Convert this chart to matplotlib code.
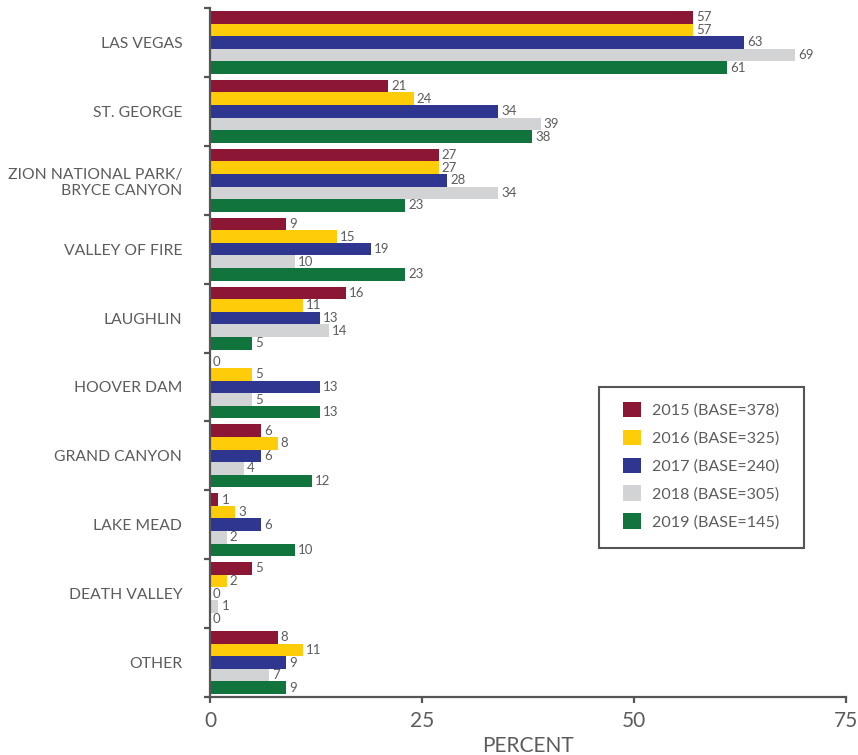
import matplotlib.pyplot as plt
from matplotlib.patches import Rectangle
import numpy as np

plt.rcParams['font.family'] = ['Lato', 'DejaVu Sans']

places = ["LAS VEGAS", "ST. GEORGE", "ZION NATIONAL PARK/\nBRYCE CANYON",
          "VALLEY OF FIRE", "LAUGHLIN", "HOOVER DAM", "GRAND CANYON",
          "LAKE MEAD", "DEATH VALLEY", "OTHER"]
series_names = ["2015 (BASE=378)", "2016 (BASE=325)", "2017 (BASE=240)",
                "2018 (BASE=305)", "2019 (BASE=145)"]
y2015 = [57, 21, 27, 9, 16, 0, 6, 1, 5, 8]
y2016 = [57, 24, 27, 15, 11, 5, 8, 3, 2, 11]
y2017 = [63, 34, 28, 19, 13, 13, 6, 6, 0, 9]
y2018 = [69, 39, 34, 10, 14, 5, 4, 2, 1, 7]
y2019 = [61, 38, 23, 23, 5, 13, 12, 10, 0, 9]
colors = ["#8B1734", "#FFCC0A", "#2E368F", "#D1D3D4", "#11743C"]

axis_col = "#555555"
text_col = "#5c5c5c"

W, H = 858, 755
fig = plt.figure(figsize=(W/100, H/100), dpi=100)
ax = fig.add_axes([210/W, (H-697)/H, (846-210)/W, (697-8)/H])

pos = np.arange(len(places))
h = 0.183
all_series = [y2015, y2016, y2017, y2018, y2019]
for i, (vals, col, name) in enumerate(zip(all_series, colors, series_names)):
    yy = pos + (i - 2) * h
    ax.barh(yy, vals, height=h, color=col, label=name, linewidth=0)
    for y, v in zip(yy, vals):
        ax.text(v + 0.35, y, str(v), va='center', ha='left',
                fontsize=9.5, color=text_col)

ax.set_xlim(0, 75)
ax.set_ylim(len(places) - 0.5, -0.5)
ax.set_xticks([0, 25, 50, 75])
ax.set_yticks(pos)
ax.set_yticklabels(places, linespacing=1.2)
ax.set_yticks(np.arange(len(places) + 1) - 0.5, minor=True)

for s in ['top', 'right']:
    ax.spines[s].set_visible(False)
for s in ['left', 'bottom']:
    ax.spines[s].set_color(axis_col)
    ax.spines[s].set_linewidth(1.6)

ax.tick_params(axis='y', which='major', length=0, pad=20,
               labelsize=11.3, labelcolor=text_col)
ax.tick_params(axis='y', which='minor', length=4.5, width=1.6, color=axis_col)
ax.tick_params(axis='x', length=4, width=1.6, color=axis_col, pad=6,
               labelsize=15, labelcolor=text_col)
ax.set_xlabel("PERCENT", fontsize=15, color=text_col, labelpad=4)

# legend entries without frame, box drawn separately in pixel coords
leg = ax.legend(loc='upper left', bbox_to_anchor=(623/W, 1 - 402/H),
                bbox_transform=fig.transFigure,
                frameon=False, fontsize=11.6, labelcolor=text_col,
                handlelength=1.1, handleheight=1.1, handletextpad=0.7,
                labelspacing=0.72, borderpad=0, borderaxespad=0)
fig.patches.append(Rectangle((599/W, 1 - 548/H), (804-599)/W, (548-387)/H,
                             transform=fig.transFigure, fill=False,
                             edgecolor=axis_col, linewidth=1.5, zorder=5))

fig.savefig("out.png", dpi=100)
